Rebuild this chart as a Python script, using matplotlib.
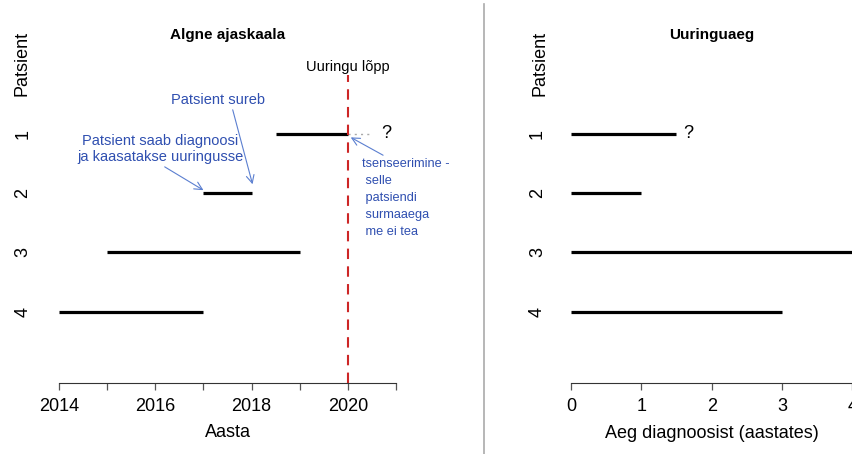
import matplotlib
matplotlib.use("Agg")
import matplotlib.pyplot as plt
from matplotlib.lines import Line2D

plt.rcParams['font.family'] = ['Liberation Sans', 'DejaVu Sans']

# patients and their follow-up in calendar years
patients = [1, 2, 3, 4]
start_year = [2018.5, 2017, 2015, 2014]
end_year = [2020, 2018, 2019, 2017]
study_end = 2020
censored_to = 2020.5          # patient 1 continues past study end (unknown)

# same data on time-since-diagnosis scale
followup = [1.5, 1, 4, 3]

year_ticks = [2014, 2015, 2016, 2017, 2018, 2019, 2020, 2021]
year_labels = ['2014', '', '2016', '', '2018', '', '2020', '']
time_ticks = [0, 1, 2, 3, 4]

W, H = 852, 454
fig = plt.figure(figsize=(W / 100, H / 100), dpi=100)


def px_axes(left, right, top, bottom):
    return fig.add_axes([left / W, 1 - bottom / H, (right - left) / W, (bottom - top) / H])


def style(ax, ticks, labels, lo, hi):
    for s in ['top', 'right', 'left']:
        ax.spines[s].set_visible(False)
    ax.spines['bottom'].set_bounds(lo, hi)
    ax.spines['bottom'].set_color('#333333')
    ax.set_xticks(ticks)
    ax.set_xticklabels(labels)
    ax.tick_params(axis='x', length=5, width=0.9, color='#555555', pad=6, labelsize=13)
    ax.set_yticks(patients)
    ax.set_yticklabels([str(p) for p in patients], rotation=90, va='center')
    ax.tick_params(axis='y', length=0, pad=10, labelsize=13)
    ax.set_ylim(5.2, 0.0)


# left panel: calendar time
ax1 = px_axes(45.5, 409.5, 74.5, 383)
ax1.set_xlim(2013.72, 2021.28)
style(ax1, year_ticks, year_labels, 2014, 2021)
for p, a, b in zip(patients, start_year, end_year):
    ax1.plot([a, b], [p, p], color='black', lw=2.3, solid_capstyle='butt')
ax1.plot([study_end, censored_to], [1, 1], color='#aaaaaa', lw=1, ls=(0, (1.5, 3)))
ax1.annotate('?', (censored_to, 1), xytext=(7, 0), textcoords='offset points',
             ha='left', va='center', fontsize=13)
ax1.axvline(study_end, ymin=0, ymax=1, color='#cd2626', lw=1.5, ls=(0, (5, 3.5)))
ax1.text(study_end, -0.13, 'Uuringu lõpp', ha='center', va='center', fontsize=10.5)

blue = '#2f4fb0'
arrow_col = '#5b7fd0'
arrow = dict(arrowstyle='->', color=arrow_col, lw=0.8, shrinkA=0, shrinkB=0,
             mutation_scale=14)
ax1.annotate('Patsient sureb', xy=(2018.02, 1.85), xytext=(2017.3, 0.43),
             ha='center', va='center', color=blue, fontsize=10.5,
             arrowprops=dict(arrow, relpos=(0.65, 0.0)))
ax1.annotate('Patsient saab diagnoosi\nja kaasatakse uuringusse',
             xy=(2017.0, 1.95), xytext=(2016.1, 1.26),
             ha='center', va='center', color=blue, fontsize=10.5, linespacing=1.15,
             arrowprops=dict(arrow, relpos=(0.5, 0.0)))
ax1.annotate('tsenseerimine -\n selle\n patsiendi\n surmaaega\n me ei tea',
             xy=(2020.06, 1.06), xytext=(2020.29, 2.08),
             ha='left', va='center', color=blue, fontsize=9.2, linespacing=1.55,
             arrowprops=dict(arrow, relpos=(0.3, 1.0)))
ax1.set_xlabel('Aasta', fontsize=13, labelpad=6)
fig.text(227.5 / W, 1 - 35 / H, 'Algne ajaskaala', ha='center', va='center',
         fontsize=11, fontweight='bold')
fig.text(22 / W, 1 - 63.5 / H, 'Patsient', rotation=90, ha='center', va='center', fontsize=13)

# right panel: time since diagnosis
ax2 = px_axes(559.75, 863.5, 74.5, 383)
ax2.set_xlim(-0.16, 4.16)
style(ax2, time_ticks, [str(t) for t in time_ticks], 0, 4.16)
for p, d in zip(patients, followup):
    ax2.plot([0, d], [p, p], color='black', lw=2.3, solid_capstyle='butt')
ax2.annotate('?', (followup[0], 1), xytext=(5, 0), textcoords='offset points',
             ha='left', va='center', fontsize=13)
ax2.set_xlabel('Aeg diagnoosist (aastates)', fontsize=13, labelpad=6)
ax2.xaxis.set_label_coords((711.5 - 559.75) / (863.5 - 559.75), -0.135)
fig.text(712 / W, 1 - 35 / H, 'Uuringuaeg', ha='center', va='center',
         fontsize=11, fontweight='bold')
fig.text(540.5 / W, 1 - 63.5 / H, 'Patsient', rotation=90, ha='center', va='center', fontsize=13)

# separator between the two panels
fig.add_artist(Line2D([484 / W, 484 / W], [0, 1 - 4 / H], color='#aaaaaa', lw=1.2))

fig.savefig('out.png', dpi=100)
